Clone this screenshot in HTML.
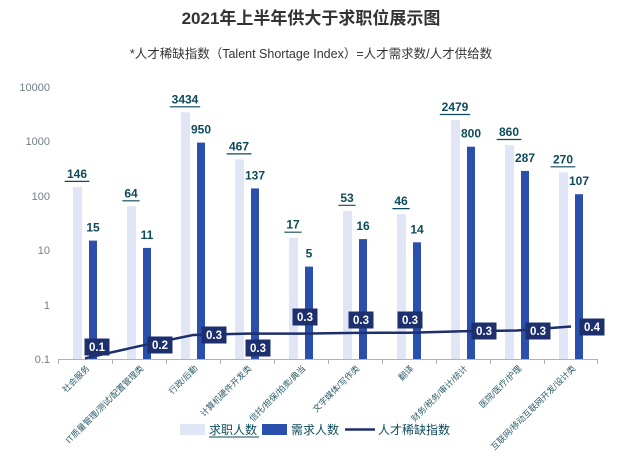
<!DOCTYPE html>
<html><head><meta charset="utf-8"><style>
body{margin:0;background:#fff;}
svg{display:block;font-family:"Liberation Sans","Noto Sans CJK SC",sans-serif;}
</style></head><body>
<svg width="622" height="466" viewBox="0 0 622 466">
<text x="311" y="24" text-anchor="middle" font-size="17" font-weight="bold" fill="#333">2021年上半年供大于求职位展示图</text>
<text x="311" y="58" text-anchor="middle" font-size="12.5" fill="#333">*人才稀缺指数（Talent Shortage Index）=人才需求数/人才供给数</text>
<g font-size="11" fill="#6e7f88" text-anchor="end">
<text x="50" y="91">10000</text><text x="50" y="145">1000</text><text x="50" y="200">100</text><text x="50" y="254">10</text><text x="50" y="309">1</text><text x="50" y="363">0.1</text>
</g>
<line x1="58" y1="359.5" x2="598" y2="359.5" stroke="#a9b4be" stroke-width="1"/>
<g stroke="#a9b4be">
<line x1="58.5" y1="359" x2="58.5" y2="364"/><line x1="112.5" y1="359" x2="112.5" y2="364"/><line x1="166.5" y1="359" x2="166.5" y2="364"/><line x1="220.5" y1="359" x2="220.5" y2="364"/><line x1="274.5" y1="359" x2="274.5" y2="364"/><line x1="328.5" y1="359" x2="328.5" y2="364"/><line x1="382.5" y1="359" x2="382.5" y2="364"/><line x1="436.5" y1="359" x2="436.5" y2="364"/><line x1="490.5" y1="359" x2="490.5" y2="364"/><line x1="544.5" y1="359" x2="544.5" y2="364"/><line x1="597.5" y1="359" x2="597.5" y2="364"/>
</g>
<g fill="#e1e6f6">
<rect x="73" y="186.9" width="9" height="172.1"/>
<rect x="127" y="206.3" width="9" height="152.7"/>
<rect x="181" y="112.3" width="9" height="246.7"/>
<rect x="235" y="159.4" width="9" height="199.6"/>
<rect x="289" y="237.7" width="9" height="121.3"/>
<rect x="343" y="210.8" width="9" height="148.2"/>
<rect x="397" y="214.1" width="9" height="144.9"/>
<rect x="451" y="120" width="9" height="239"/>
<rect x="505" y="145" width="9" height="214"/>
<rect x="559" y="172.3" width="9" height="186.7"/>
</g>
<g fill="#2a4fad">
<rect x="89" y="240.6" width="8" height="118.4"/>
<rect x="143" y="247.9" width="8" height="111.1"/>
<rect x="197" y="142.6" width="8" height="216.4"/>
<rect x="251" y="188.4" width="8" height="170.6"/>
<rect x="305" y="266.6" width="8" height="92.4"/>
<rect x="359" y="239.1" width="8" height="119.9"/>
<rect x="413" y="242.3" width="8" height="116.7"/>
<rect x="467" y="146.7" width="8" height="212.3"/>
<rect x="521" y="170.9" width="8" height="188.1"/>
<rect x="575" y="194.2" width="8" height="164.8"/>
</g>
<g font-size="12" font-weight="bold" fill="#0d4a5a" text-anchor="middle">
<text x="77" y="177.9">146</text><text x="131" y="197.3">64</text><text x="185" y="103.3">3434</text><text x="239" y="150.4">467</text><text x="293" y="228.7">17</text><text x="347" y="201.8">53</text><text x="401" y="205.1">46</text><text x="455" y="111">2479</text><text x="509" y="136">860</text><text x="563" y="163.3">270</text>
<text x="93" y="231.6">15</text><text x="147" y="238.9">11</text><text x="201" y="133.6">950</text><text x="255" y="179.4">137</text><text x="309" y="257.6">5</text><text x="363" y="230.1">16</text><text x="417" y="233.3">14</text><text x="471" y="137.7">800</text><text x="525" y="161.9">287</text><text x="579" y="185.2">107</text>
</g>
<g stroke="#0d4a5a" stroke-width="1.2">
<line x1="64.6" y1="181.4" x2="89.4" y2="181.4"/>
<line x1="122.4" y1="200.8" x2="139.6" y2="200.8"/>
<line x1="169.8" y1="106.8" x2="200.2" y2="106.8"/>
<line x1="226.6" y1="153.9" x2="251.4" y2="153.9"/>
<line x1="284.4" y1="232.2" x2="301.6" y2="232.2"/>
<line x1="338.4" y1="205.3" x2="355.6" y2="205.3"/>
<line x1="392.4" y1="208.6" x2="409.6" y2="208.6"/>
<line x1="439.8" y1="114.5" x2="470.2" y2="114.5"/>
<line x1="496.6" y1="139.5" x2="521.4" y2="139.5"/>
<line x1="550.6" y1="166.8" x2="575.4" y2="166.8"/>
</g>
<g font-size="8.5" fill="#2a5a6a" text-anchor="end">
<text transform="translate(90,369) rotate(-45)">社会服务</text>
<text transform="translate(144,369) rotate(-45)">IT质量管理/测试/配置管理类</text>
<text transform="translate(198,369) rotate(-45)">行政/后勤</text>
<text transform="translate(252,369) rotate(-45)">计算机硬件开发类</text>
<text transform="translate(306,369) rotate(-45)">信托/担保/拍卖/典当</text>
<text transform="translate(360,369) rotate(-45)">文字媒体/写作类</text>
<text transform="translate(414,369) rotate(-45)">翻译</text>
<text transform="translate(468,369) rotate(-45)">财务/税务/审计/统计</text>
<text transform="translate(522,369) rotate(-45)">医院/医疗/护理</text>
<text transform="translate(576,369) rotate(-45)">互联网/移动互联网开发/设计类</text>
</g>
<polyline points="85,358.3 139,346.2 193,335 247,333.6 301,333.6 355,332.9 409,332.7 463,331.3 517,330.5 571,326.5" fill="none" stroke="#1e2f6e" stroke-width="2.5"/>
<g fill="#1e2f6e">
<rect x="84.5" y="338.5" width="25" height="17"/><rect x="147.5" y="336.5" width="25" height="17"/><rect x="201.5" y="326.5" width="25" height="17"/><rect x="245.5" y="339.5" width="25" height="17"/><rect x="292.5" y="308.5" width="25" height="17"/><rect x="348.5" y="311.5" width="25" height="17"/><rect x="397.5" y="311.5" width="25" height="17"/><rect x="471.5" y="322.5" width="25" height="17"/><rect x="525.5" y="322.5" width="25" height="17"/><rect x="579.5" y="318.5" width="25" height="17"/>
</g>
<g font-size="11.5" font-weight="bold" fill="#fff" text-anchor="middle">
<text x="97" y="351">0.1</text><text x="160" y="349">0.2</text><text x="214" y="339">0.3</text><text x="258" y="352">0.3</text><text x="305" y="321">0.3</text><text x="361" y="324">0.3</text><text x="410" y="324">0.3</text><text x="484" y="335">0.3</text><text x="538" y="335">0.3</text><text x="592" y="331">0.4</text>
</g>
<rect x="180" y="424" width="25" height="11" fill="#e1e6f6"/>
<text x="209" y="434" font-size="12" fill="#0d4a5a">求职人数</text>
<line x1="209" y1="437" x2="259" y2="437" stroke="#0d4a5a" stroke-width="1"/>
<rect x="262" y="424" width="25" height="11" fill="#2a4fad"/>
<text x="291" y="434" font-size="12" fill="#0d4a5a">需求人数</text>
<line x1="345" y1="429.5" x2="375" y2="429.5" stroke="#1e2f6e" stroke-width="2.5"/>
<text x="378" y="434" font-size="12" fill="#0d4a5a">人才稀缺指数</text>
</svg>
</body></html>
